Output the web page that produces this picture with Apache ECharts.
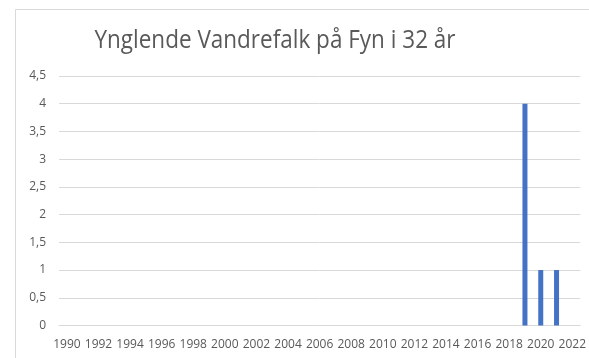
<!DOCTYPE html>
<html>
<head>
<meta charset="utf-8">
<script src="https://cdn.jsdelivr.net/npm/echarts@6/dist/echarts.min.js"></script>
<style>
  html, body { margin: 0; padding: 0; background: #fff; }
  #chart { width: 589px; height: 358px; }
</style>
</head>
<body>
<div id="chart"></div>
<script>
// Breeding peregrine falcon pairs on Funen, per year
const years = ['1990','1991','1992','1993','1994','1995','1996','1997','1998','1999',
  '2000','2001','2002','2003','2004','2005','2006','2007','2008','2009',
  '2010','2011','2012','2013','2014','2015','2016','2017','2018','2019',
  '2020','2021','2022'];
const pairs = [0,0,0,0,0,0,0,0,0,0,
  0,0,0,0,0,0,0,0,0,0,
  0,0,0,0,0,0,0,0,0,4,
  1,1,0];
const yTicks = [0, 0.5, 1, 1.5, 2, 2.5, 3, 3.5, 4, 4.5];
const titleText = 'Ynglende Vandrefalk på Fyn i 32 år';

const FONT = 'Open Sans';
const chart = echarts.init(document.getElementById('chart'), null, { renderer: 'canvas' });
chart.setOption({
  animation: false,
  backgroundColor: '#ffffff',
  graphic: [{
    type: 'rect',
    shape: { x: 15.5, y: 9.5, width: 700, height: 400 },
    style: { fill: 'none', stroke: '#d9d9d9', lineWidth: 1 },
    silent: true
  }, {
    // chart title, slightly tall-narrow like a condensed face
    type: 'text',
    x: 275,
    y: 54,
    scaleY: 1.12,
    style: {
      text: titleText,
      align: 'center',
      verticalAlign: 'bottom',
      fontFamily: FONT, fontSize: 22.5, fontWeight: 'normal', fill: '#595959'
    },
    silent: true
  }],
  grid: { left: 59, right: 5, top: 76, bottom: 32.5, containLabel: false },
  xAxis: {
    type: 'category',
    data: years,
    boundaryGap: true,
    axisTick: { show: false },
    axisLine: { show: true, lineStyle: { color: '#d9d9d9', width: 1 } },
    axisLabel: {
      interval: 1,
      margin: 13,
      fontFamily: FONT, fontSize: 12, color: '#595959'
    }
  },
  yAxis: {
    type: 'value',
    min: yTicks[0],
    max: yTicks[yTicks.length - 1],
    interval: 0.5,
    axisLine: { show: false },
    axisTick: { show: false },
    splitLine: { lineStyle: { color: '#d9d9d9', width: 1 } },
    axisLabel: {
      margin: 13,
      fontFamily: FONT, fontSize: 12, color: '#595959',
      formatter: v => String(v).replace('.', ',')
    }
  },
  series: [{
    type: 'bar',
    data: pairs,
    barWidth: 5,
    itemStyle: { color: '#4472c4' }
  }]
});
</script>
</body>
</html>
